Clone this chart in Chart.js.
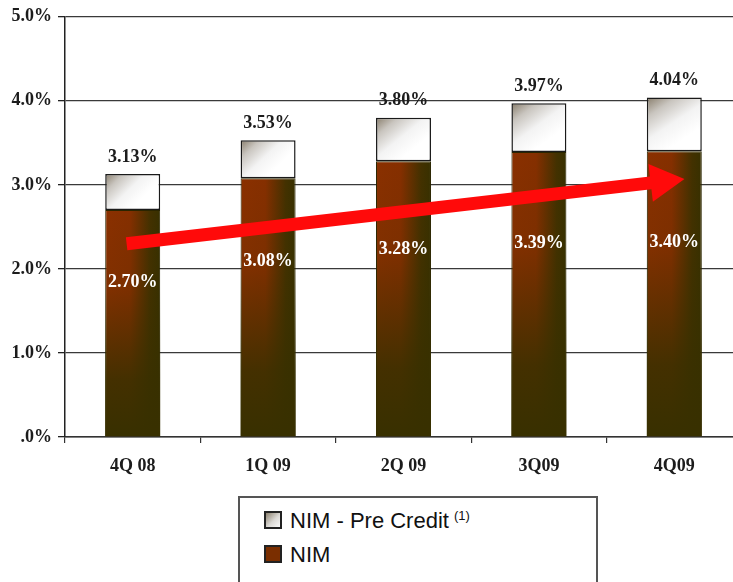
<!DOCTYPE html>
<html>
<head>
<meta charset="utf-8">
<script src="https://cdn.jsdelivr.net/npm/chart.js@4.4.1/dist/chart.umd.min.js"></script>
<style>
  html, body { margin: 0; padding: 0; background: #fff; overflow: hidden; width: 733px; height: 582px; }
  #wrap { position: relative; width: 742px; height: 582px; }
  #chart { position: absolute; left: 0; top: 0; }
  #legend {
    position: absolute; left: 238px; top: 496px; width: 356px; height: 100px;
    border: 2px solid #555; background: #fff;
    font-family: "Liberation Sans", Arial, sans-serif; font-size: 22px; color: #111;
  }
  .item { position: absolute; left: 24px; height: 22px; line-height: 22px; white-space: nowrap; }
  .item .box { display: inline-block; width: 14px; height: 14px; border: 2px solid #222; vertical-align: -1px; margin-right: 8px; }
  .item sup { font-size: 13px; vertical-align: 8px; line-height: 0; margin-left: 5px; }
</style>
</head>
<body>
<div id="wrap">
  <canvas id="chart" width="742" height="485"></canvas>
  <div id="legend"></div>
</div>
<script>
// ===== Data =====
const quarters = ['4Q 08', '1Q 09', '2Q 09', '3Q09', '4Q09'];
const nimValues = [2.70, 3.08, 3.28, 3.39, 3.40];
const totalValues = [3.13, 3.53, 3.80, 3.97, 4.04];
const yTickLabels = ['.0%', '1.0%', '2.0%', '3.0%', '4.0%', '5.0%'];
const seriesNames = ['NIM - Pre Credit', 'NIM'];
const seriesNotes = ['(1)', ''];

const preCreditValues = totalValues.map((t, i) => +(t - nimValues[i]).toFixed(2));

const BAR_PCT = 0.406;
const SERIF = '"Liberation Serif", "Times New Roman", serif';

function fmtPct(v) { return v.toFixed(2) + '%'; }

function barSpan(chart, i) {
  const xs = chart.scales.x;
  const cx = xs.getPixelForValue(i);
  const half = xs.width / quarters.length * BAR_PCT / 2;
  return [cx - half, cx + half];
}

// horizontal red -> dark olive on the NIM bars
function nimFill(ctx) {
  const chart = ctx.chart;
  if (!chart.chartArea || !chart.scales.x) return '#6a2c00';
  const [l, r] = barSpan(chart, ctx.dataIndex);
  const g = chart.ctx.createLinearGradient(l, 0, r, 0);
  g.addColorStop(0, '#8a3000');
  g.addColorStop(0.45, '#852f00');
  g.addColorStop(0.82, '#433100');
  g.addColorStop(1, '#373000');
  return g;
}

// grey corner fading to white on the pre-credit caps
function capFill(ctx) {
  const chart = ctx.chart;
  if (!chart.chartArea || !chart.scales.x) return '#eeeeee';
  const ys = chart.scales.y;
  const i = ctx.dataIndex;
  const [l, r] = barSpan(chart, i);
  const top = ys.getPixelForValue(totalValues[i]);
  const bot = ys.getPixelForValue(nimValues[i]);
  const g = chart.ctx.createLinearGradient(l, top, l + (r - l) * 0.55, top + (bot - top) * 0.85);
  g.addColorStop(0, '#877c6a');
  g.addColorStop(0.3, '#c9c5bf');
  g.addColorStop(0.65, '#f3f3f3');
  g.addColorStop(1, '#ffffff');
  return g;
}

// vertical darkening towards the base of the NIM bars
const shadePlugin = {
  id: 'shade',
  afterDatasetDraw(chart, args) {
    if (args.index !== 0) return;
    const c = chart.ctx;
    args.meta.data.forEach(el => {
      const { x, y, base, width } = el.getProps(['x', 'y', 'base', 'width'], true);
      const g = c.createLinearGradient(0, y, 0, base);
      g.addColorStop(0, 'rgba(56,48,0,0)');
      g.addColorStop(0.35, 'rgba(56,48,0,0.12)');
      g.addColorStop(0.75, 'rgba(56,48,0,0.85)');
      g.addColorStop(1, 'rgba(56,48,0,1)');
      c.save();
      c.fillStyle = g;
      c.fillRect(x - width / 2, y, width, base - y);
      c.restore();
    });
  }
};

// trend arrow, anchored to category / value positions
const ARROW = { from: [0 - 0.045, 2.30], to: [4 + 0.075, 3.07], shaft: 13, headLen: 34, headHalf: 19 };
const arrowPlugin = {
  id: 'arrow',
  afterDatasetsDraw(chart) {
    const xs = chart.scales.x, ys = chart.scales.y;
    const cat = xs.width / quarters.length;
    const x0 = xs.getPixelForValue(0) + (ARROW.from[0]) * cat;
    const y0 = ys.getPixelForValue(ARROW.from[1]);
    const x1 = xs.getPixelForValue(0) + (ARROW.to[0]) * cat;
    const y1 = ys.getPixelForValue(ARROW.to[1]);
    const ang = Math.atan2(y1 - y0, x1 - x0);
    const len = Math.hypot(x1 - x0, y1 - y0);
    const c = chart.ctx;
    c.save();
    c.translate(x0, y0);
    c.rotate(ang);
    c.fillStyle = '#ff0a0a';
    const s = ARROW.shaft / 2, hb = len - ARROW.headLen;
    c.beginPath();
    c.moveTo(0, -s);
    c.lineTo(hb, -s);
    c.lineTo(hb, -ARROW.headHalf);
    c.lineTo(len, 0);
    c.lineTo(hb, ARROW.headHalf);
    c.lineTo(hb, s);
    c.lineTo(0, s);
    c.closePath();
    c.fill();
    c.restore();
  }
};

// value labels: totals above, NIM inside the bar
const INNER_FRAC = 0.68;
const labelPlugin = {
  id: 'labels',
  afterDraw(chart) {
    const xs = chart.scales.x, ys = chart.scales.y;
    const c = chart.ctx;
    c.save();
    c.font = 'bold 18px ' + SERIF;
    c.textAlign = 'center';
    c.textBaseline = 'middle';
    quarters.forEach((q, i) => {
      const x = xs.getPixelForValue(i);
      c.fillStyle = '#1c1c1c';
      c.fillText(fmtPct(totalValues[i]), x, ys.getPixelForValue(totalValues[i]) - 17);
      c.fillStyle = '#ffffff';
      c.fillText(fmtPct(nimValues[i]), x, ys.getPixelForValue(nimValues[i] * INNER_FRAC));
    });
    c.restore();
  }
};

const chart = new Chart(document.getElementById('chart'), {
  type: 'bar',
  data: {
    labels: quarters,
    datasets: [
      {
        label: seriesNames[1],
        data: nimValues,
        backgroundColor: nimFill,
        borderColor: '#2a2500',
        borderWidth: 1,
        borderSkipped: 'start',
        barPercentage: 1,
        categoryPercentage: BAR_PCT,
      },
      {
        label: seriesNames[0],
        data: preCreditValues,
        backgroundColor: capFill,
        borderColor: '#1a1a1a',
        borderWidth: 1.5,
        borderSkipped: false,
        barPercentage: 1,
        categoryPercentage: BAR_PCT,
      }
    ]
  },
  options: {
    responsive: false,
    animation: false,
    layout: { padding: { top: 14, left: 0, right: 0, bottom: 0 } },
    plugins: {
      legend: { display: false },
      tooltip: { enabled: false }
    },
    scales: {
      x: {
        stacked: true,
        grid: { display: true, drawOnChartArea: false, offset: true, tickLength: 6, color: '#333', lineWidth: 1.2 },
        border: { display: true, color: '#333', width: 1.5 },
        ticks: { color: '#1c1c1c', padding: 13, font: { family: SERIF, size: 18, weight: 'bold' }, maxRotation: 0 },
        afterFit: (s) => { s.height = 48; }
      },
      y: {
        stacked: true,
        min: 0,
        max: 5,
        grid: { color: '#3a3a3a', lineWidth: 1.3, tickLength: 7, tickColor: '#222' },
        border: { display: true, color: '#222', width: 1.5 },
        ticks: {
          stepSize: 1,
          color: '#1c1c1c',
          padding: 6,
          font: { family: SERIF, size: 18, weight: 'bold' },
          callback: (v) => yTickLabels[Math.round(v)]
        },
        afterFit: (s) => { s.width = 65; }
      }
    }
  },
  plugins: [shadePlugin, arrowPlugin, labelPlugin]
});

// HTML legend (needs the superscript note)
const legendEl = document.getElementById('legend');
const swatches = [
  'background: linear-gradient(135deg, #8a806e 0%, #dcdad6 55%, #fafafa 100%);',
  'background: #7a2e00;'
];
seriesNames.forEach((name, i) => {
  const div = document.createElement('div');
  div.className = 'item';
  div.style.top = (12 + i * 34) + 'px';
  div.innerHTML = '<span class="box" style="' + swatches[i] + '"></span>' + name +
    (seriesNotes[i] ? '<sup>' + seriesNotes[i] + '</sup>' : '');
  legendEl.appendChild(div);
});
</script>
</body>
</html>
